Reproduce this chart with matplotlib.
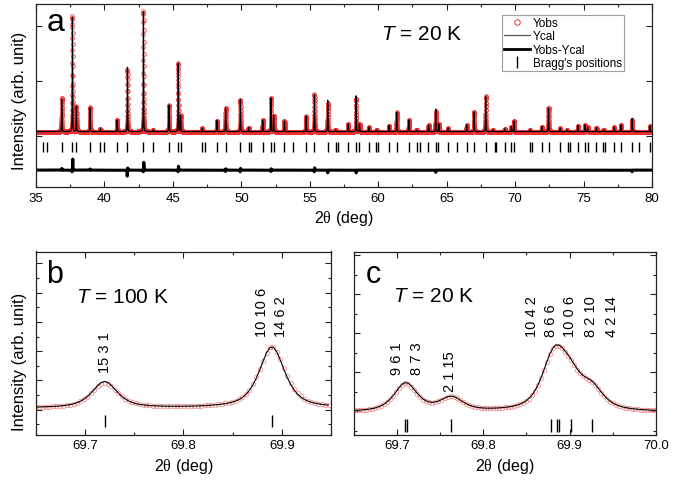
import numpy as np
import matplotlib
matplotlib.use("Agg")
import matplotlib.pyplot as plt
from matplotlib.lines import Line2D
from matplotlib.ticker import MultipleLocator, FormatStrFormatter, NullFormatter

plt.rcParams['font.family'] = ['Liberation Sans', 'DejaVu Sans']
plt.rcParams['mathtext.fontset'] = 'custom'
plt.rcParams['mathtext.rm'] = 'Liberation Serif'
plt.rcParams['mathtext.it'] = 'Liberation Sans:italic'

# ---------------- panel a : full refinement at 20 K ----------------
peak_pos_a = [36.88, 37.66, 37.95, 38.95, 39.70, 40.93, 41.68, 42.85, 43.56, 44.71,
              45.39, 45.56, 47.15, 48.22, 48.85, 49.93, 50.53, 51.56, 52.17, 52.36,
              53.15, 54.73, 55.34, 56.31, 56.88, 57.80, 58.39, 58.63, 59.31, 59.88,
              60.80, 61.35, 62.23, 62.80, 63.68, 64.20, 64.42, 65.10, 66.46, 67.00,
              67.85, 68.39, 69.24, 69.73, 69.91, 71.09, 71.95, 72.44, 73.28, 73.78,
              74.58, 75.10, 75.29, 75.94, 76.46, 77.24, 77.73, 78.55, 79.85]
peak_int_a = [0.59, 2.08, 0.46, 0.43, 0.05, 0.21, 1.17, 2.18, 0.03, 0.48,
              1.24, 0.29, 0.06, 0.20, 0.43, 0.58, 0.07, 0.21, 0.61, 0.29,
              0.19, 0.28, 0.67, 0.57, 0.03, 0.14, 0.65, 0.14, 0.08, 0.03,
              0.11, 0.35, 0.21, 0.03, 0.12, 0.41, 0.14, 0.06, 0.12, 0.36,
              0.64, 0.03, 0.05, 0.09, 0.19, 0.03, 0.09, 0.43, 0.06, 0.03,
              0.11, 0.12, 0.08, 0.07, 0.03, 0.08, 0.12, 0.24, 0.10]
background_a = 0.08

bragg_a = [35.53, 35.78, 36.88, 37.66, 37.95, 38.95, 39.70, 39.95, 40.93, 41.68,
           42.85, 43.56, 44.71, 45.39, 45.56, 47.15, 47.35, 48.22, 48.85, 49.93,
           50.53, 50.70, 51.56, 52.17, 52.36, 53.15, 53.78, 54.73, 55.34, 56.31,
           56.88, 57.07, 57.80, 58.39, 58.63, 59.32, 59.85, 60.00, 60.79, 61.35,
           62.23, 62.83, 63.02, 63.67, 64.20, 64.40, 65.10, 65.78, 66.46, 67.00,
           67.85, 68.53, 68.63, 69.24, 69.73, 69.90, 71.12, 71.24, 71.95, 72.44,
           73.28, 73.90, 74.02, 74.58, 75.10, 75.29, 75.94, 76.40, 76.57, 77.24,
           77.73, 78.55, 79.02, 79.85]

# residual features of the refinement (position, signed amplitude)
diff_pos_a = [36.89, 37.685, 37.63, 38.96, 41.665, 41.70, 42.875, 42.83, 45.41, 45.37,
              48.86, 48.84, 49.94, 49.92, 52.18, 52.16, 55.35, 55.33, 56.31, 58.39,
              64.20, 78.55]
diff_amp_a = [0.03, 0.20, -0.03, 0.02, -0.11, 0.04, 0.14, -0.03, 0.07, -0.03,
              0.03, -0.03, 0.04, -0.04, 0.03, -0.03, 0.05, -0.04, -0.05, -0.05,
              -0.04, -0.03]
diff_offset_a = -0.62

# ---------------- panel b : 100 K ----------------
peak_pos_b = [69.720, 69.890]
calc_int_b = [0.90, 2.10]
obs_int_b = [0.86, 2.10]
background_b = 0.05
bragg_b = [69.720, 69.890]
hkl_b = ["15 3 1", "10 10 6", "14 6 2"]
hkl_x_b = [69.720, 69.880, 69.899]
hkl_y_b = [1.29, 2.53, 2.53]

# ---------------- panel c : 20 K ----------------
peak_pos_c = [69.709, 69.711, 69.763, 69.879, 69.886, 69.888, 69.902, 69.926]
calc_int_c = [0.365, 0.365, 0.344, 0.75, 0.40, 0.35, 0.58, 0.50]
obs_int_c = [0.355, 0.355, 0.340, 0.74, 0.40, 0.35, 0.57, 0.49]
background_c = -0.02
bragg_c = peak_pos_c
hkl_c = ["9 6 1", "8 7 3", "2 1 15", "10 4 2", "8 6 6", "10 0 6", "8 2 10", "4 2 14"]
hkl_x_c = [69.700, 69.723, 69.761, 69.856, 69.879, 69.901, 69.925, 69.949]
hkl_y_c = [0.96, 0.96, 0.53, 1.94, 1.94, 1.94, 1.94, 1.94]


def pseudo_voigt(x, centers, amps, fwhm, eta=0.7):
    y = np.zeros_like(x)
    hw = fwhm / 2.0
    for c, a in zip(centers, amps):
        d = x - c
        lor = 1.0 / (1.0 + (d / hw) ** 2)
        gau = np.exp(-4 * np.log(2) * (d / fwhm) ** 2)
        y += a * (eta * lor + (1 - eta) * gau)
    return y


def gauss(x, centers, amps, fwhm):
    y = np.zeros_like(x)
    for c, a in zip(centers, amps):
        y += a * np.exp(-4 * np.log(2) * ((x - c) / fwhm) ** 2)
    return y


OBS_RED = '#f03030'
OBS_PINK = '#f29595'
FRAME = '#222222'


def style_axes(ax):
    for s in ax.spines.values():
        s.set_color(FRAME)
        s.set_linewidth(0.9)
    ax.tick_params(which='both', direction='in', top=True, right=True,
                   colors=FRAME, labelcolor='black', labelsize=9.5, width=0.8)
    ax.tick_params(which='major', length=4)
    ax.tick_params(which='minor', length=2)
    ax.yaxis.set_major_formatter(NullFormatter())
    ax.yaxis.set_minor_formatter(NullFormatter())


fig = plt.figure(figsize=(6.87, 4.81), dpi=100)

# ---- panel a ----
ax_a = fig.add_axes([36 / 687, 1 - 188 / 481, 616 / 687, 183 / 481])
x_a = np.arange(35.0, 80.0001, 0.0025)
ycal_a = background_a + pseudo_voigt(x_a, peak_pos_a, peak_int_a, 0.03, eta=0.5)
diff_a = gauss(x_a, diff_pos_a, diff_amp_a, 0.03)
yobs_a = ycal_a + diff_a
ax_a.plot(x_a, yobs_a, linestyle='none', marker='o', markersize=2.6,
          markerfacecolor='none', markeredgecolor=OBS_RED, markeredgewidth=0.55)
ax_a.plot(x_a, ycal_a, color='black', lw=0.9)
ax_a.plot(x_a, diff_a + diff_offset_a, color='black', lw=2.2)
ax_a.vlines(bragg_a, -0.29, -0.11, color='black', lw=1.0)
ax_a.set_xlim(35, 80)
ax_a.set_ylim(-0.927, 2.4)
ax_a.xaxis.set_major_locator(MultipleLocator(5))
ax_a.xaxis.set_minor_locator(MultipleLocator(2.5))
ax_a.yaxis.set_major_locator(MultipleLocator(1))
style_axes(ax_a)
ax_a.set_xlabel('2$\\mathrm{θ}$ (deg)', fontsize=11.5, labelpad=3)
ax_a.set_ylabel('Intensity (arb. unit)', fontsize=12)
ax_a.yaxis.set_label_coords(-0.0146, 0.475)
ax_a.text(46.5 / 687, 1 - 31 / 481, 'a', transform=fig.transFigure, fontsize=23,
          ha='left', va='baseline')
ax_a.text(381 / 687, 1 - 39.5 / 481, '$T$ = 20 K', transform=fig.transFigure,
          fontsize=15, ha='left', va='baseline')
handles = [
    Line2D([], [], linestyle='none', marker='o', markersize=4, markerfacecolor='none',
           markeredgecolor=OBS_RED, markeredgewidth=0.7),
    Line2D([], [], color='#555555', lw=0.9),
    Line2D([], [], color='black', lw=2.0),
    Line2D([], [], linestyle='none', marker='|', markersize=9, color='black',
           markeredgewidth=1.0),
]
leg = ax_a.legend(handles, ['Yobs', 'Ycal', 'Yobs-Ycal', "Bragg's positions"],
                  loc='upper right', bbox_to_anchor=(0.9545, 0.9415), borderaxespad=0,
                  fontsize=8.5, frameon=True, fancybox=False, labelspacing=0.12,
                  handlelength=2.2, handletextpad=0.25, borderpad=0.18)
leg.get_frame().set_edgecolor('#888888')
leg.get_frame().set_linewidth(0.8)

# ---- panel b ----
ax_b = fig.add_axes([35.7 / 687, 1 - 435.5 / 481, 295.3 / 687, 183 / 481])
x_b = np.arange(69.65, 69.9501, 0.0035)
ycal_b = background_b + pseudo_voigt(x_b, peak_pos_b, calc_int_b, 0.031)
yobs_b = background_b + pseudo_voigt(x_b, peak_pos_b, obs_int_b, 0.032)
ax_b.plot(x_b, yobs_b, linestyle='none', marker='o', markersize=3.2,
          markerfacecolor='none', markeredgecolor=OBS_PINK, markeredgewidth=0.6)
ax_b.plot(x_b, ycal_b, color='black', lw=0.8)
ax_b.vlines(bragg_b, -0.6, -0.2, color='black', lw=1.0)
for lab, xx, yy in zip(hkl_b, hkl_x_b, hkl_y_b):
    ax_b.text(xx, yy, lab, rotation=90, ha='center', va='bottom', fontsize=10.5)
ax_b.set_xlim(69.65, 69.95)
ax_b.set_ylim(-0.853, 5.41)
ax_b.xaxis.set_major_locator(MultipleLocator(0.1))
ax_b.xaxis.set_minor_locator(MultipleLocator(0.05))
ax_b.xaxis.set_major_formatter(FormatStrFormatter('%.1f'))
ax_b.yaxis.set_major_locator(MultipleLocator(1))
ax_b.yaxis.set_minor_locator(MultipleLocator(0.5))
style_axes(ax_b)
ax_b.set_xlabel('2$\\mathrm{θ}$ (deg)', fontsize=11.5, labelpad=3)
ax_b.set_ylabel('Intensity (arb. unit)', fontsize=12)
ax_b.yaxis.set_label_coords(-0.0295, 0.40)
ax_b.text(46.5 / 687, 1 - 283.5 / 481, 'b', transform=fig.transFigure, fontsize=22,
          ha='left', va='baseline')
ax_b.text(76.5 / 687, 1 - 303.5 / 481, '$T$ = 100 K', transform=fig.transFigure,
          fontsize=15, ha='left', va='baseline')

# ---- panel c ----
ax_c = fig.add_axes([354 / 687, 1 - 435.5 / 481, 301.7 / 687, 183 / 481])
x_c = np.arange(69.65, 70.0001, 0.0035)
ycal_c = background_c + pseudo_voigt(x_c, peak_pos_c, calc_int_c, 0.032)
yobs_c = background_c + pseudo_voigt(x_c, peak_pos_c, obs_int_c, 0.032)
ax_c.plot(x_c, yobs_c, linestyle='none', marker='o', markersize=3.2,
          markerfacecolor='none', markeredgecolor=OBS_PINK, markeredgewidth=0.6)
ax_c.plot(x_c, ycal_c, color='black', lw=0.8)
ax_c.vlines(bragg_c, -0.52, -0.2, color='black', lw=1.0)
for lab, xx, yy in zip(hkl_c, hkl_x_c, hkl_y_c):
    ax_c.text(xx, yy, lab, rotation=90, ha='center', va='bottom', fontsize=10.5)
ax_c.set_xlim(69.65, 70.0)
ax_c.set_ylim(-0.59, 4.1)
ax_c.xaxis.set_major_locator(MultipleLocator(0.1))
ax_c.xaxis.set_minor_locator(MultipleLocator(0.05))
ax_c.xaxis.set_major_formatter(FormatStrFormatter('%.1f'))
ax_c.yaxis.set_major_locator(MultipleLocator(1))
ax_c.yaxis.set_minor_locator(MultipleLocator(0.5))
style_axes(ax_c)
ax_c.set_xlabel('2$\\mathrm{θ}$ (deg)', fontsize=11.5, labelpad=3)
ax_c.text(366 / 687, 1 - 283.5 / 481, 'c', transform=fig.transFigure, fontsize=22,
          ha='left', va='baseline')
ax_c.text(393 / 687, 1 - 302 / 481, '$T$ = 20 K', transform=fig.transFigure,
          fontsize=15, ha='left', va='baseline')

fig.savefig('out.png', dpi=100)
